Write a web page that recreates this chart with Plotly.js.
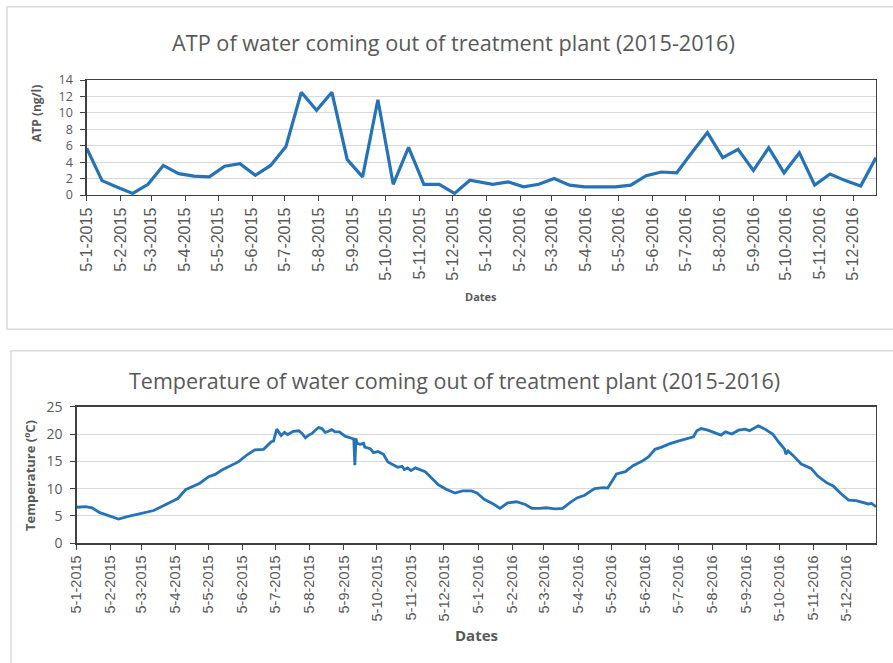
<!DOCTYPE html>
<html><head><meta charset="utf-8">
<script src="https://cdn.plot.ly/plotly-3.0.1.min.js"></script>
<style>html,body{margin:0;padding:0;background:#fff}#chart{width:893px;height:663px}</style>
</head><body><div id="chart"></div>
<script>
// ---- ATP (ng/l), roughly biweekly samples ----
const atpDates = [
  "2015-01-05","2015-01-19","2015-02-02","2015-02-16","2015-03-02","2015-03-16","2015-03-30","2015-04-13","2015-04-27",
  "2015-05-11","2015-05-25","2015-06-08","2015-06-22","2015-07-06","2015-07-20","2015-08-03","2015-08-17","2015-08-31",
  "2015-09-14","2015-09-28","2015-10-12","2015-10-26","2015-11-09","2015-11-23","2015-12-07","2015-12-21",
  "2016-01-11","2016-01-25","2016-02-08","2016-02-22","2016-03-07","2016-03-21","2016-04-04","2016-04-18","2016-05-02",
  "2016-05-16","2016-05-30","2016-06-13","2016-06-27","2016-07-11","2016-07-25","2016-08-08","2016-08-22","2016-09-05",
  "2016-09-19","2016-10-03","2016-10-17","2016-10-31","2016-11-14","2016-11-28","2016-12-12","2016-12-26"
];
const atpValues = [
  5.7,1.75,0.95,0.2,1.3,3.6,2.6,2.3,2.2,3.5,3.8,2.4,3.6,5.9,12.5,10.3,12.5,4.3,2.2,11.6,1.3,5.8,1.3,1.3,0.2,1.8,
  1.3,1.6,1.0,1.3,2.0,1.2,1.0,1.0,1.0,1.2,2.35,2.8,2.7,5.2,7.6,4.55,5.55,3.0,5.75,2.7,5.15,1.2,2.55,1.75,1.1,4.55
];

// ---- Temperature (°C), days counted from the first sample ----
const tempStartDate = "2015-01-05";
const tempDayOffsets = [
  0,8,14,21,27,35,38,46,58,70,76,83,92,99,106,112,120,126,132,139,147,155,162,170,174,177,179,182,184,186,189,192,
  197,202,205,208,211,214,217,220,223,226,229,232,235,239,244,249,252,253,254,255,258,261,262,267,270,274,279,283,
  288,292,296,298,301,304,308,312,317,323,329,336,344,351,359,364,371,379,385,392,400,408,414,421,427,435,442,449,
  455,462,471,479,483,491,499,506,514,520,526,532,539,547,555,561,564,568,574,580,586,590,596,602,608,612,620,626,
  633,639,644,645,647,652,659,668,674,682,688,694,702,709,715,720,723,727
];
const tempValues = [
  6.6,6.7,6.5,5.6,5.2,4.6,4.45,4.9,5.4,6.0,6.6,7.3,8.2,9.8,10.4,11.0,12.2,12.6,13.4,14.1,14.9,16.2,17.1,17.2,18.0,18.6,18.7,20.9,20.3,19.7,20.3,19.9,
  20.5,20.6,20.1,19.3,19.8,20.1,20.7,21.2,21.0,20.3,20.5,20.8,20.4,20.4,19.6,19.2,19.1,14.3,19.2,18.3,18.1,18.3,17.6,17.3,16.6,16.8,16.3,14.9,
  14.3,13.9,14.1,13.5,13.8,13.3,13.8,13.5,13.1,11.9,10.7,9.9,9.2,9.6,9.6,9.2,8.0,7.2,6.4,7.4,7.6,7.1,6.4,6.4,6.5,6.3,6.4,7.5,
  8.3,8.8,10.0,10.2,10.1,12.7,13.1,14.2,15.0,15.8,17.2,17.6,18.2,18.7,19.2,19.5,20.6,21.0,20.7,20.3,19.8,20.4,20.0,20.7,20.9,20.6,21.5,20.9,
  20.0,18.4,17.2,16.3,16.9,16.0,14.5,13.7,12.3,11.1,10.5,9.3,7.9,7.8,7.5,7.2,7.3,6.7
];

// ---- x tick labels (day-month-year) ----
const monthTickLabels = [
  "5-1-2015","5-2-2015","5-3-2015","5-4-2015","5-5-2015","5-6-2015","5-7-2015","5-8-2015","5-9-2015","5-10-2015","5-11-2015","5-12-2015",
  "5-1-2016","5-2-2016","5-3-2016","5-4-2016","5-5-2016","5-6-2016","5-7-2016","5-8-2016","5-9-2016","5-10-2016","5-11-2016","5-12-2016"
];

function labelToIso(s){
  const p = s.split("-");
  return p[2] + "-" + String(p[1]).padStart(2,"0") + "-" + String(p[0]).padStart(2,"0");
}
const tickIso = monthTickLabels.map(labelToIso);
const startMs = Date.parse(tempStartDate + "T00:00:00Z");
const tempDates = tempDayOffsets.map(d => new Date(startMs + d*86400000).toISOString().slice(0,10));

const W = 893, H = 663;
const px = x => x / W;
const py = y => 1 - y / H;

const blue = "#2472B8";
const grey = "#595959";
const axisCol = "#404040";
const sans = "Open Sans, sans-serif";

const xCommon = {
  type: "date", tickmode: "array", tickvals: tickIso, ticktext: monthTickLabels, tickangle: -90,
  ticks: "outside", ticklen: 5, tickcolor: axisCol, tickwidth: 1,
  showgrid: false, zeroline: false, showline: true, linecolor: axisCol, linewidth: 1.3, mirror: true
};
const yCommon = {
  ticks: "outside", ticklen: 5, tickcolor: axisCol, gridcolor: "#d9d9d9", gridwidth: 1,
  zeroline: false, showline: true, linecolor: axisCol, linewidth: 1.3, mirror: true,
  ticklabelstandoff: 5
};

const data = [
  {x: atpDates, y: atpValues, type: "scatter", mode: "lines", line: {color: blue, width: 3.2}, xaxis: "x", yaxis: "y", hoverinfo: "x+y"},
  {x: tempDates, y: tempValues, type: "scatter", mode: "lines", line: {color: blue, width: 2.8}, xaxis: "x2", yaxis: "y2", hoverinfo: "x+y"}
];

const layout = {
  width: W, height: H, margin: {l:0, r:0, t:0, b:0},
  paper_bgcolor: "#fff", plot_bgcolor: "#fff", showlegend: false,
  xaxis: Object.assign({}, xCommon, {domain: [px(86.7), px(876)], anchor: "y",
    range: [atpDates[0], atpDates[atpDates.length-1]],
    tickfont: {family: "Liberation Sans, Arial, sans-serif", size: 16, color: grey}}),
  yaxis: Object.assign({}, yCommon, {domain: [py(195), py(80)], anchor: "x", range: [0, 14], dtick: 2,
    tickfont: {family: sans, size: 12.5, color: grey}}),
  xaxis2: Object.assign({}, xCommon, {domain: [px(76.7), px(876)], anchor: "y2",
    range: [tempDates[0], tempDates[tempDates.length-1]],
    tickfont: {family: "Liberation Sans, Arial, sans-serif", size: 14.5, color: grey}}),
  yaxis2: Object.assign({}, yCommon, {domain: [py(543.3), py(406.7)], anchor: "x2", range: [0, 25], dtick: 5,
    tickfont: {family: sans, size: 14, color: grey}}),
  shapes: [
    {type: "rect", xref: "paper", yref: "paper", x0: px(7), x1: px(905), y0: py(329.3), y1: py(6.7), line: {color: "#d9d9d9", width: 1.5}},
    {type: "rect", xref: "paper", yref: "paper", x0: px(11), x1: px(905), y0: py(675), y1: py(350.7), line: {color: "#d9d9d9", width: 1.5}}
  ],
  annotations: [
    {text: "ATP of water coming out of treatment plant (2015-2016)", xref: "paper", yref: "paper", x: px(453), y: py(42),
     showarrow: false, xanchor: "center", yanchor: "middle", font: {family: sans, size: 21.7, color: grey}},
    {text: "Temperature of water coming out of treatment plant (2015-2016)", xref: "paper", yref: "paper", x: px(454), y: py(381),
     showarrow: false, xanchor: "center", yanchor: "middle", font: {family: sans, size: 21.5, color: grey}},
    {text: "<b>ATP (ng/l)</b>", xref: "paper", yref: "paper", x: px(36), y: py(114), textangle: -90,
     showarrow: false, xanchor: "center", yanchor: "middle", font: {family: sans, size: 12, color: grey}},
    {text: "<b>Temperature (ºC)</b>", xref: "paper", yref: "paper", x: px(30), y: py(476), textangle: -90,
     showarrow: false, xanchor: "center", yanchor: "middle", font: {family: sans, size: 13, color: grey}},
    {text: "<b>Dates</b>", xref: "paper", yref: "paper", x: px(481), y: py(296),
     showarrow: false, xanchor: "center", yanchor: "middle", font: {family: sans, size: 11, color: grey}},
    {text: "<b>Dates</b>", xref: "paper", yref: "paper", x: px(476), y: py(635),
     showarrow: false, xanchor: "center", yanchor: "middle", font: {family: sans, size: 15, color: grey}}
  ]
};

Plotly.newPlot("chart", data, layout, {staticPlot: true, displayModeBar: false});
</script>
</body></html>
